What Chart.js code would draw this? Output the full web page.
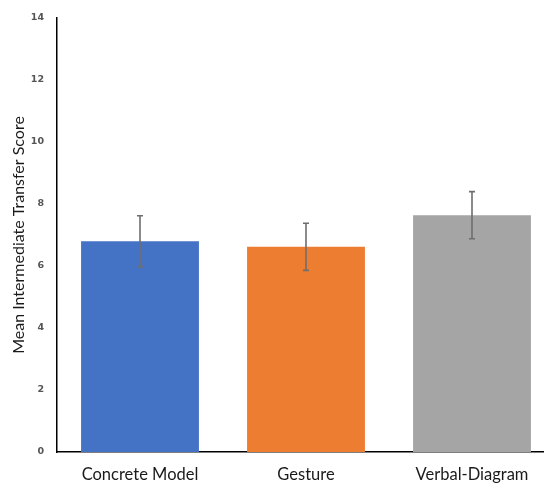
<!DOCTYPE html>
<html lang="en">
<head>
    <meta charset="UTF-8">
    <title>Mean Intermediate Transfer Score</title>
    <script src="https://cdn.jsdelivr.net/npm/chart.js"></script>
    <style>
        html, body {
            margin: 0;
            padding: 0;
            background: #fff;
            overflow: hidden;
        }
        .chart-wrapper {
            position: relative;
            width: 560px;
            height: 485px;
        }
    </style>
</head>
<body>
<div class="chart-wrapper">
    <canvas id="scoreChart"></canvas>
</div>

<script>
    const conditions = ['Concrete Model', 'Gesture', 'Verbal-Diagram'];
    const meanScores = [6.8, 6.62, 7.64];
    const errorMargins = [0.82, 0.76, 0.76];
    const barColors = ['#4472C4', '#ED7D31', '#A5A5A5'];
    const yTicks = [0, 2, 4, 6, 8, 10, 12, 14];

    // draws the +/- error whiskers on top of each bar
    const errorBars = {
        id: 'errorBars',
        afterDatasetsDraw(chart) {
            const ctx = chart.ctx;
            const y = chart.scales.y;
            const meta = chart.getDatasetMeta(0);
            ctx.save();
            ctx.strokeStyle = '#6E6E6E';
            ctx.lineWidth = 1.6;
            meta.data.forEach((bar, i) => {
                const top = y.getPixelForValue(meanScores[i] + errorMargins[i]);
                const bottom = y.getPixelForValue(meanScores[i] - errorMargins[i]);
                const x = bar.x;
                ctx.beginPath();
                ctx.moveTo(x, top);
                ctx.lineTo(x, bottom);
                ctx.moveTo(x - 3, top);
                ctx.lineTo(x + 3, top);
                ctx.moveTo(x - 3, bottom);
                ctx.lineTo(x + 3, bottom);
                ctx.stroke();
            });
            ctx.restore();
        }
    };

    const config = {
        type: 'bar',
        data: {
            labels: conditions,
            datasets: [{
                data: meanScores,
                backgroundColor: barColors,
                borderWidth: 0,
                barPercentage: 0.71,
                categoryPercentage: 1
            }]
        },
        options: {
            responsive: true,
            maintainAspectRatio: false,
            animation: false,
            layout: {
                padding: { top: 18, right: 5, left: 0, bottom: 0 }
            },
            plugins: {
                legend: { display: false },
                tooltip: { enabled: false }
            },
            scales: {
                x: {
                    grid: { display: false },
                    border: { display: true, color: '#000', width: 1.5 },
                    ticks: {
                        color: '#1a1a1a',
                        padding: 5,
                        font: { family: 'Lato', size: 16.5 }
                    },
                    afterFit: s => { s.height = 33; }
                },
                y: {
                    min: 0,
                    max: 14,
                    afterBuildTicks: s => { s.ticks = yTicks.map(v => ({ value: v })); },
                    grid: { display: false },
                    border: { display: true, color: '#000', width: 1.5 },
                    ticks: {
                        color: '#555',
                        padding: 5,
                        font: { family: 'DejaVu Sans', size: 9.5, weight: 'bold' }
                    },
                    title: {
                        display: true,
                        text: 'Mean Intermediate Transfer Score',
                        color: '#1a1a1a',
                        padding: { top: 9, bottom: 6 },
                        font: { family: 'Lato', size: 16 }
                    },
                    afterFit: s => { s.width = 57; }
                }
            }
        },
        plugins: [errorBars]
    };

    const ctx = document.getElementById('scoreChart').getContext('2d');
    const scoreChart = new Chart(ctx, config);
</script>
</body>
</html>
